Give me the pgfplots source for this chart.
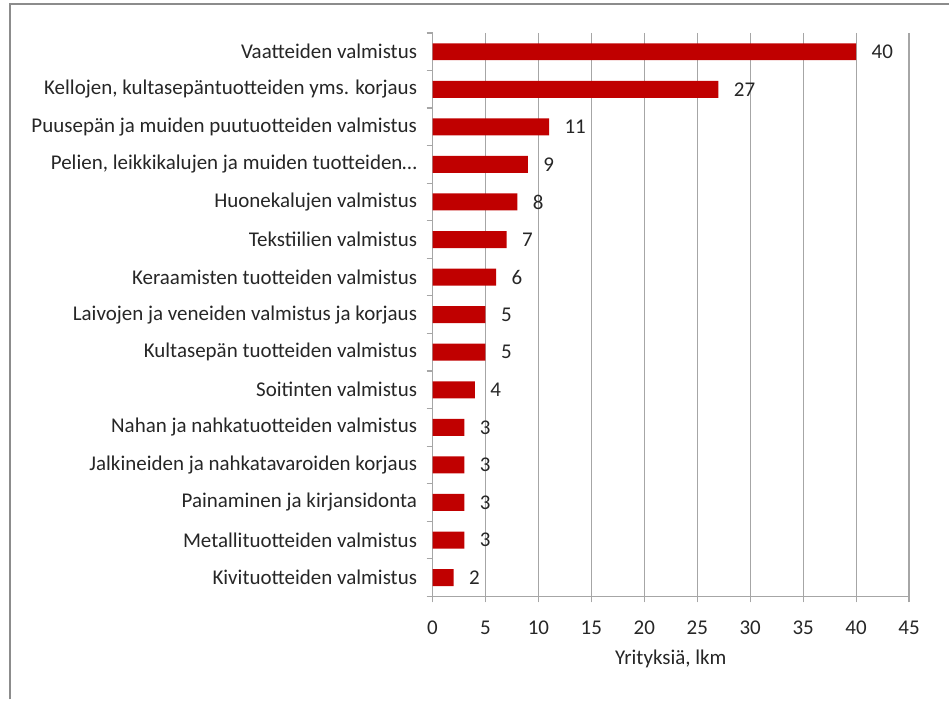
\documentclass[border=0pt]{standalone}
\usepackage{pgfplots}
\pgfplotsset{compat=1.18}
\usepackage{fontspec}
\setmainfont{Carlito}
\definecolor{barred}{HTML}{C00000}
\definecolor{gridgray}{HTML}{A6A6A6}
\definecolor{framegray}{HTML}{8C8C8C}
\definecolor{txt}{HTML}{262626}
\begin{document}
\begin{tikzpicture}[x=1pt,y=1pt]
% canvas 950x700
\path (0,0) rectangle (950,700);
\draw[framegray, line width=2pt] (10,0) -- (10,696) -- (950,696);
\begin{axis}[
    at={(433pt,103pt)}, anchor=south west,
    scale only axis,
    width=477pt, height=564pt,
    xbar, bar width=17pt,
    xmin=0, xmax=45,
    xtick={0,5,...,45},
    ymin=-0.5, ymax=14.5,
    y dir=reverse,
    ytick={0,...,14},
    yticklabels={Vaatteiden valmistus,
        {Kellojen, kultasepäntuotteiden yms. korjaus},
        Puusepän ja muiden puutuotteiden valmistus,
        {Pelien, leikkikalujen ja muiden tuotteiden…},
        Huonekalujen valmistus,
        Tekstiilien valmistus,
        Keraamisten tuotteiden valmistus,
        Laivojen ja veneiden valmistus ja korjaus,
        Kultasepän tuotteiden valmistus,
        Soitinten valmistus,
        Nahan ja nahkatuotteiden valmistus,
        Jalkineiden ja nahkatavaroiden korjaus,
        Painaminen ja kirjansidonta,
        Metallituotteiden valmistus,
        Kivituotteiden valmistus},
    minor ytick={-0.5,0.5,...,14.5},
    major y tick style={draw=none},
    minor tick length=6pt,
    major tick length=6pt,
    tick align=outside,
    axis x line*=bottom, axis y line*=left,
    axis line style={gridgray, line width=1.2pt},
    tick style={gridgray, line width=1.2pt},
    xmajorgrids, major grid style={gridgray, line width=1.2pt},
    x tick label style={font=\fontsize{21}{24}\selectfont, text=txt, yshift=-15pt},
    y tick label style={font=\fontsize{21}{24}\selectfont, text=txt, xshift=-6pt},
    xlabel={Yrityksiä, lkm},
    xlabel style={font=\fontsize{21}{24}\selectfont, text=txt, yshift=-8pt},
    nodes near coords,
    nodes near coords style={font=\fontsize{21}{24}\selectfont, text=txt, anchor=west, xshift=12pt},
    /pgf/number format/assume math mode=true,
]
\addplot[fill=barred, draw=none] coordinates {
(40,0) (27,1) (11,2) (9,3) (8,4) (7,5) (6,6) (5,7) (5,8) (4,9) (3,10) (3,11) (3,12) (3,13) (2,14)};
\end{axis}
\end{tikzpicture}
\end{document}
